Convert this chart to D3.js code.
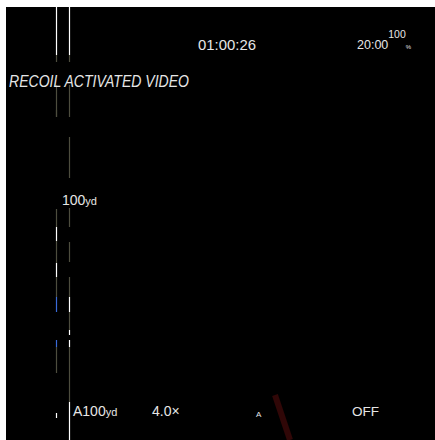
<!DOCTYPE html>
<html>
<head>
<meta charset="utf-8">
<script src="https://cdn.jsdelivr.net/npm/d3@7"></script>
<style>
  body { margin: 0; background: #fff; }
  text { font-family: "Liberation Sans", Arial, sans-serif; fill: #e6e6e6; }
</style>
</head>
<body>
<script>
var width = 435;
var height = 440;

// two vertical strips, each a list of [start, end, kind]
var strips = ["left", "right"];
var leftSegs = [
  [0, 48, "on"], [48, 55, "dim"], [78, 110, "dim"], [103, 110, "dim"],
  [202, 220, "dim"], [220, 234, "on"], [234, 256, "dim"], [256, 270, "on"],
  [270, 290, "dim"], [290, 305, "blue"], [333, 340, "blue"], [340, 366, "dim"],
  [406, 411, "on"]
];
var rightSegs = [
  [0, 48, "on"], [48, 55, "dim"], [78, 110, "dim"], [130, 171, "dim"],
  [201, 220, "dim"], [235, 255, "dim"], [270, 290, "dim"], [290, 305, "on"],
  [305, 323, "dim"], [323, 328, "on"], [333, 340, "on"], [340, 395, "dim"],
  [395, 433, "on"]
];
var kinds = ["on", "dim", "blue"];
var kindColors = ["#ffffff", "#4d4d3e", "#3a6ad8"];

// readouts
var clock = "01:00:26";
var timer = "20:00";
var battery = "100";
var title = "RECOIL ACTIVATED VIDEO";
var range = "100";
var rangeA = "A100";
var zoomLevel = "4.0×";
var mode = "A";
var status = "OFF";
// dark red marker: [from, to] in panel coords
var marker = [[269, 388], [284, 433]];

var svg = d3.select("body").append("svg").attr("width", width).attr("height", height);

var panel = svg.append("g").attr("transform", "translate(6,7)");
panel.append("rect").attr("width", width - 6).attr("height", height - 7).attr("fill", "#000");

var x = d3.scalePoint().domain(strips).range([50.5, 63.5]);
var y = d3.scaleLinear().domain([0, 433]).range([0, 433]);
var color = d3.scaleOrdinal().domain(kinds).range(kindColors);

// red slanted marker
panel.append("line")
  .attr("x1", y(marker[0][0])).attr("y1", y(marker[0][1]))
  .attr("x2", y(marker[1][0])).attr("y2", y(marker[1][1]))
  .attr("stroke", "#300707").attr("stroke-width", 6);

[leftSegs, rightSegs].forEach(function (segs, i) {
  panel.append("g").selectAll("line")
    .data(segs)
    .enter().append("line")
    .attr("x1", x(strips[i])).attr("x2", x(strips[i]))
    .attr("y1", function (d) { return y(d[0]); })
    .attr("y2", function (d) { return y(d[1]); })
    .attr("stroke", function (d) { return color(d[2]); })
    .attr("stroke-width", 1.2);
});

svg.append("text").attr("x", 198).attr("y", 50).attr("font-size", 15)
  .attr("textLength", 58).attr("lengthAdjust", "spacingAndGlyphs").text(clock);

var t = svg.append("text").attr("x", 357).attr("y", 49).attr("font-size", 12.5);
t.append("tspan").text(timer);
t.append("tspan").attr("font-size", 10.5).attr("dy", -11).text(battery);
t.append("tspan").attr("font-size", 6).attr("dy", 11).text("%");

svg.append("text").attr("x", 9).attr("y", 87).attr("font-size", 16.5)
  .attr("font-style", "italic").attr("textLength", 180)
  .attr("lengthAdjust", "spacingAndGlyphs").text(title);

var r = svg.append("text").attr("x", 62).attr("y", 205).attr("font-size", 14);
r.append("tspan").text(range);
r.append("tspan").attr("font-size", 11).text("yd");

var ra = svg.append("text").attr("x", 73).attr("y", 416).attr("font-size", 14);
ra.append("tspan").text(rangeA);
ra.append("tspan").attr("font-size", 11).text("yd");

svg.append("text").attr("x", 152).attr("y", 416).attr("font-size", 14).text(zoomLevel);
svg.append("text").attr("x", 256).attr("y", 417).attr("font-size", 8).text(mode);
svg.append("text").attr("x", 352).attr("y", 416).attr("font-size", 13.5).text(status);
</script>
</body>
</html>
